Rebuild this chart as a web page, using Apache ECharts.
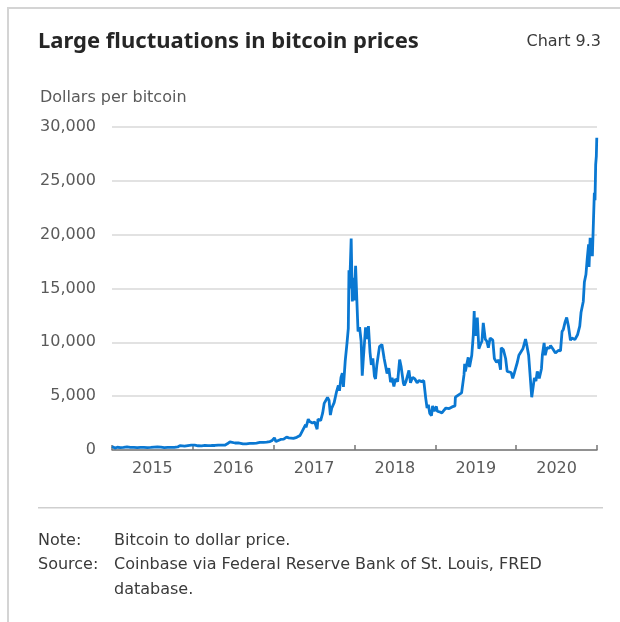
<!DOCTYPE html>
<html>
<head>
<meta charset="utf-8">
<script src="https://cdn.jsdelivr.net/npm/echarts@6/dist/echarts.min.js"></script>
<style>
html,body{margin:0;padding:0;background:#fff;}
#chart{width:620px;height:622px;}
</style>
</head>
<body>
<div id="chart"></div>
<script>
var yearLabels = ['2015','2016','2017','2018','2019','2020'];
var yTicks = [0, 5000, 10000, 15000, 20000, 25000, 30000];

var dates = [
'2015-01-01','2015-01-14','2015-01-25','2015-02-08','2015-02-22','2015-03-10','2015-03-25','2015-04-10','2015-04-25','2015-05-10','2015-05-25','2015-06-10','2015-06-25','2015-07-10','2015-07-25','2015-08-10','2015-08-25','2015-09-10','2015-09-25','2015-10-10','2015-10-25','2015-11-04','2015-11-11','2015-11-25','2015-12-10','2015-12-25',
'2016-01-10','2016-01-16','2016-01-25','2016-02-10','2016-02-25','2016-03-10','2016-03-25','2016-04-10','2016-04-25','2016-05-10','2016-05-25','2016-06-05','2016-06-17','2016-06-25','2016-07-10','2016-07-25','2016-08-02','2016-08-15','2016-08-30','2016-09-15','2016-09-30','2016-10-15','2016-10-30','2016-11-15','2016-11-30','2016-12-15','2016-12-25',
'2017-01-01','2017-01-04','2017-01-11','2017-01-20','2017-02-01','2017-02-15','2017-02-28','2017-03-10','2017-03-18','2017-03-31','2017-04-15','2017-04-30','2017-05-10','2017-05-25','2017-05-27','2017-06-06','2017-06-12','2017-06-25','2017-07-05','2017-07-16','2017-07-20','2017-08-01','2017-08-10','2017-08-17','2017-08-23','2017-09-01','2017-09-08','2017-09-14','2017-09-20','2017-10-01','2017-10-12','2017-10-20','2017-10-25','2017-11-01','2017-11-07','2017-11-12','2017-11-20','2017-11-28','2017-12-04','2017-12-07','2017-12-10','2017-12-17','2017-12-22','2017-12-26','2017-12-31',
'2018-01-06','2018-01-12','2018-01-17','2018-01-24','2018-01-31','2018-02-05','2018-02-10','2018-02-20','2018-02-26','2018-03-05','2018-03-12','2018-03-18','2018-03-25','2018-04-01','2018-04-06','2018-04-12','2018-04-24','2018-05-05','2018-05-15','2018-05-28','2018-06-05','2018-06-13','2018-06-20','2018-06-28','2018-07-05','2018-07-15','2018-07-24','2018-07-31','2018-08-10','2018-08-14','2018-08-22','2018-09-04','2018-09-11','2018-09-21','2018-10-01','2018-10-11','2018-10-20','2018-10-31','2018-11-10','2018-11-14','2018-11-19','2018-11-25','2018-12-01','2018-12-07','2018-12-15','2018-12-20','2018-12-27','2018-12-31',
'2019-01-06','2019-01-10','2019-01-20','2019-01-31','2019-02-08','2019-02-18','2019-02-24','2019-03-05','2019-03-18','2019-03-31','2019-04-02','2019-04-15','2019-04-30','2019-05-11','2019-05-14','2019-05-17','2019-05-30','2019-06-05','2019-06-15','2019-06-22','2019-06-26','2019-06-28','2019-07-02','2019-07-10','2019-07-17','2019-07-24','2019-07-31','2019-08-06','2019-08-15','2019-08-22','2019-08-29','2019-09-06','2019-09-18','2019-09-25','2019-10-05','2019-10-15','2019-10-23','2019-10-26','2019-11-05','2019-11-15','2019-11-22','2019-12-01','2019-12-10','2019-12-17','2019-12-25','2019-12-31',
'2020-01-07','2020-01-14','2020-01-22','2020-02-01','2020-02-13','2020-02-20','2020-02-27','2020-03-07','2020-03-12','2020-03-16','2020-03-24','2020-03-31','2020-04-06','2020-04-15','2020-04-25','2020-04-29','2020-05-07','2020-05-12','2020-05-20','2020-05-31','2020-06-05','2020-06-15','2020-06-27','2020-07-10','2020-07-20','2020-07-27','2020-08-02','2020-08-10','2020-08-17','2020-08-25','2020-09-03','2020-09-10','2020-09-23','2020-10-05','2020-10-15','2020-10-21','2020-10-31','2020-11-05','2020-11-12','2020-11-18','2020-11-24','2020-11-26','2020-12-01','2020-12-05','2020-12-11','2020-12-16','2020-12-20','2020-12-23','2020-12-26','2020-12-29','2020-12-31'
];

var prices = [
315,178,255,223,235,292,246,236,226,240,238,229,243,270,289,264,221,240,235,246,285,405,305,365,415,455,
448,385,393,383,425,415,417,420,461,452,450,575,755,660,650,655,540,570,575,607,610,640,700,710,740,780,890,
1000,1130,780,895,985,1010,1190,1120,970,1080,1180,1350,1750,2350,2100,2860,2650,2500,2600,1930,2860,2730,3420,4330,4150,4880,4600,3250,3880,4400,5430,5990,5500,6740,7130,5870,8250,9900,11300,16700,15000,19650,13800,16000,13900,
17100,13700,11000,11400,10100,6900,8500,11400,10300,11500,9100,7900,8500,6850,6600,7900,9600,9800,8500,7100,7600,6300,6700,5900,6600,6350,8400,7700,6200,6000,6400,7400,6250,6750,6600,6250,6450,6350,6450,6300,4800,3900,4200,3400,3200,4100,3600,3700,
4050,3600,3550,3450,3650,3900,3750,3850,4000,4100,4900,5100,5300,7000,8000,7300,8600,7700,8800,10700,12900,11200,10600,12300,9400,9800,10100,11800,10300,10100,9500,10400,10200,8500,8150,8350,7450,9500,9300,8500,7300,7400,7200,6650,7200,7200,
8150,8800,8650,9400,10300,9600,8800,8900,4900,5000,6700,6400,7300,6650,7550,8800,9950,8800,9500,9450,9700,9400,9000,9250,9200,11000,11200,11900,12300,11500,10200,10400,10250,10700,11500,12800,13800,15600,16300,17800,19100,17000,19700,19150,18000,21300,23900,23200,26500,27300,29000
];

var seriesData = dates.map(function (d, i) { return [d, prices[i]]; });

var chart = echarts.init(document.getElementById('chart'), null, {renderer: 'canvas'});
var FONT = '"DejaVu Sans", sans-serif';
var BODY = '16px "DejaVu Sans"';

chart.setOption({
  animation: false,
  backgroundColor: '#fff',
  textStyle: {fontFamily: FONT},
  graphic: [
    {type: 'rect', shape: {x: 7, y: 7, width: 620, height: 2}, style: {fill: '#d4d4d4'}},
    {type: 'rect', shape: {x: 7, y: 7, width: 2, height: 620}, style: {fill: '#d4d4d4'}},
    {type: 'text', left: 38, top: 31, style: {text: 'Large fluctuations in bitcoin prices', font: '700 22px "Noto Sans"', fill: '#262626'}},
    {type: 'text', right: 19, top: 34, style: {text: 'Chart 9.3', font: BODY, fill: '#3a3a3a'}},
    {type: 'text', left: 40, top: 90, style: {text: 'Dollars per bitcoin', font: BODY, fill: '#5a5a5a'}},
    {type: 'rect', shape: {x: 38, y: 507, width: 565, height: 1.5}, style: {fill: '#cfcfcf'}},
    {type: 'text', left: 38, top: 533, style: {text: 'Note:', font: BODY, fill: '#3a3a3a'}},
    {type: 'text', left: 114, top: 533, style: {text: 'Bitcoin to dollar price.', font: BODY, fill: '#3a3a3a'}},
    {type: 'text', left: 38, top: 557, style: {text: 'Source:', font: BODY, fill: '#3a3a3a'}},
    {type: 'text', left: 114, top: 557, style: {text: 'Coinbase via Federal Reserve Bank of St. Louis, FRED', font: BODY, fill: '#3a3a3a'}},
    {type: 'text', left: 114, top: 582, style: {text: 'database.', font: BODY, fill: '#3a3a3a'}}
  ],
  grid: {left: 112, right: 23, top: 127, bottom: 172, containLabel: false},
  xAxis: [
    {
      type: 'time', min: '2015-01-01', max: '2021-01-01', show: false
    },
    {
      type: 'category', data: yearLabels, boundaryGap: true, position: 'bottom',
      axisLine: {show: true, lineStyle: {color: '#777', width: 1.5}},
      axisTick: {show: true, inside: true, length: 5, alignWithLabel: false, lineStyle: {color: '#777', width: 1.5}},
      axisLabel: {color: '#5a5a5a', fontSize: 16, margin: 11, fontFamily: FONT},
      splitLine: {show: false}
    }
  ],
  yAxis: {
    type: 'value', min: yTicks[0], max: yTicks[yTicks.length - 1], interval: 5000,
    axisLine: {show: false}, axisTick: {show: false},
    axisLabel: {color: '#5a5a5a', fontSize: 16, margin: 16, fontFamily: FONT,
      formatter: function (v) { return v.toLocaleString('en-US'); }},
    splitLine: {lineStyle: {color: '#d9d9d9', width: 1.5}}
  },
  series: [{
    type: 'line', xAxisIndex: 0, data: seriesData, showSymbol: false, symbol: 'none',
    lineStyle: {color: '#0a78d2', width: 2.8}, z: 3
  }]
});
</script>
</body>
</html>
